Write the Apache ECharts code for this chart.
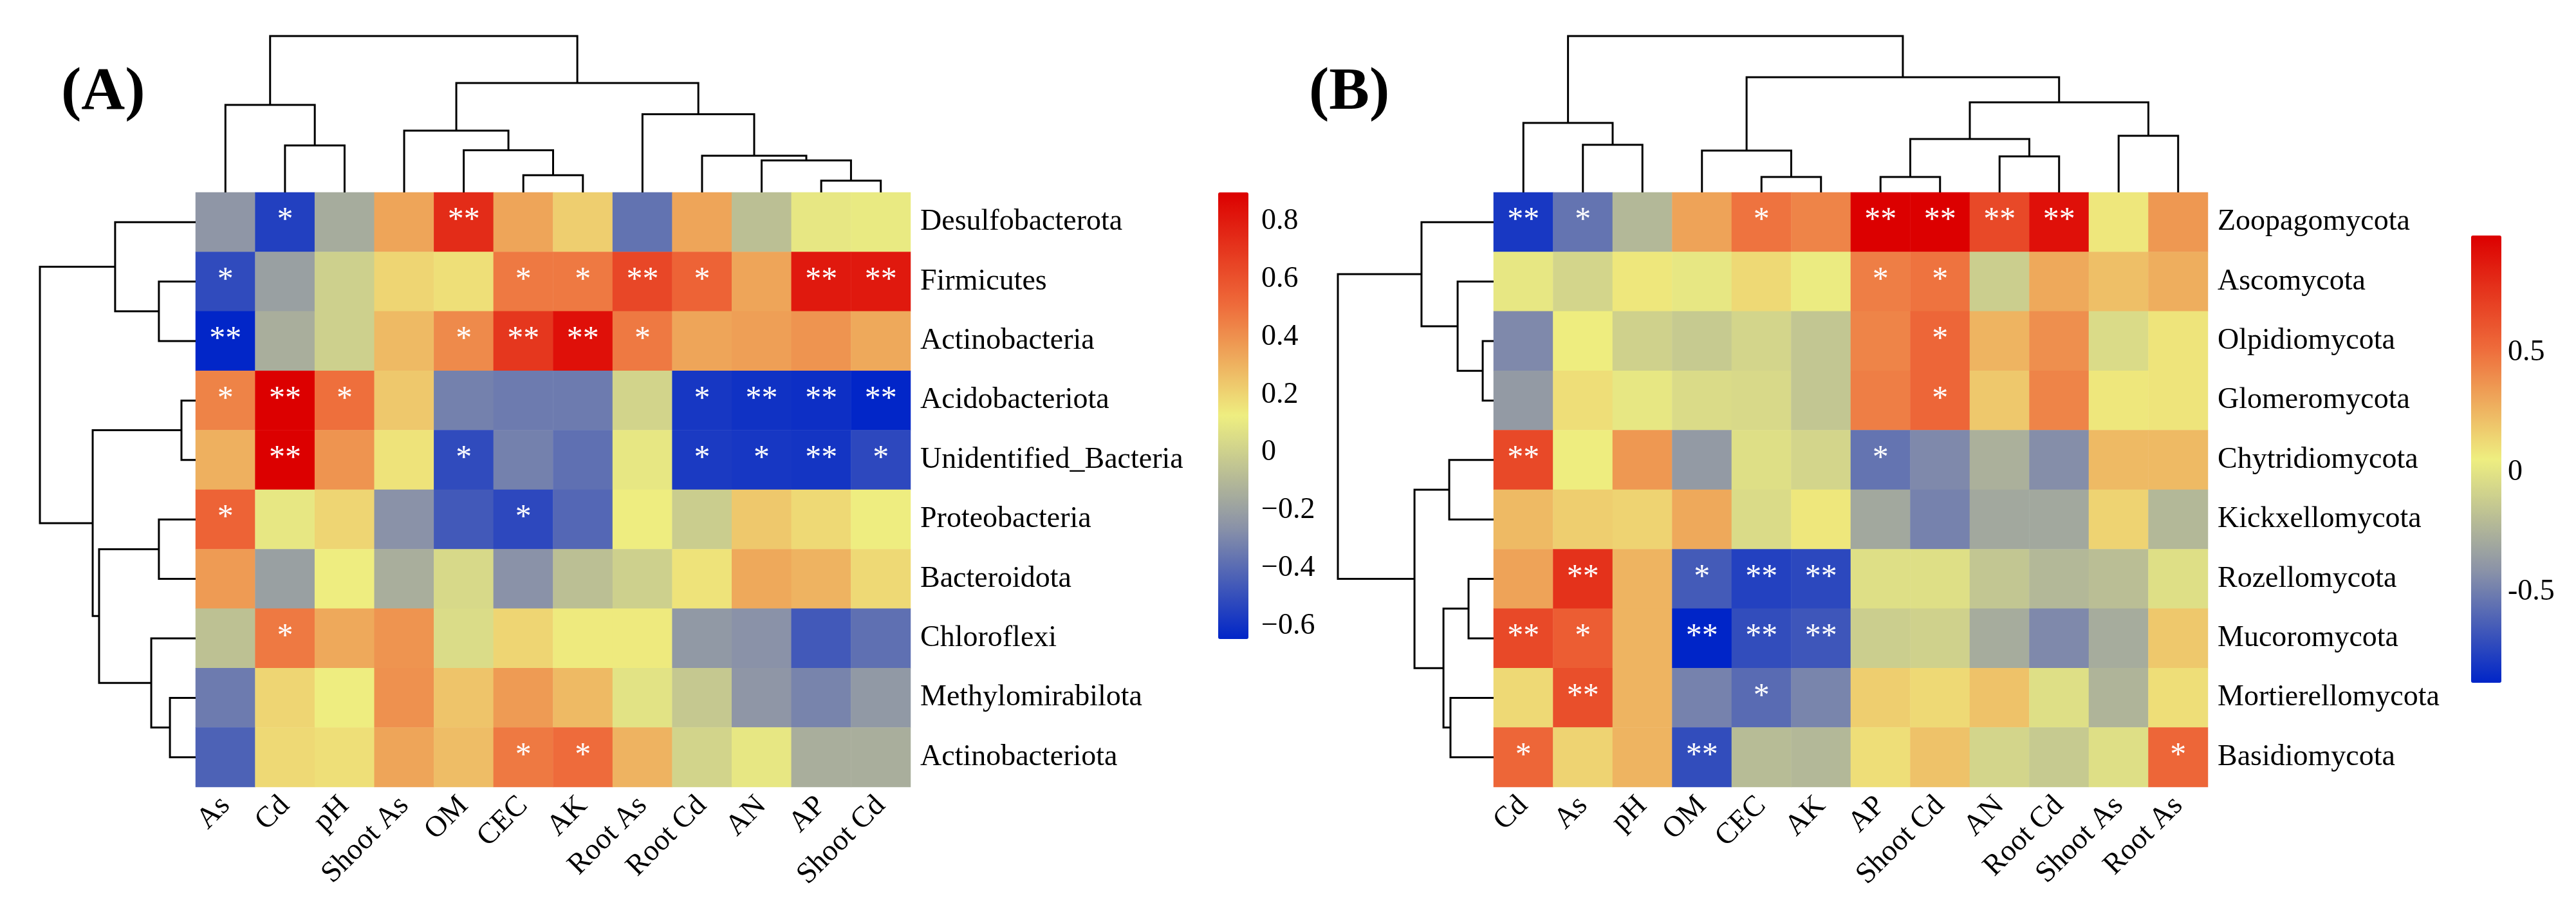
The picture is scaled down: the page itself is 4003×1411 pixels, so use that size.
<!DOCTYPE html>
<html><head><meta charset="utf-8">
<script src="https://cdn.jsdelivr.net/npm/echarts@6/dist/echarts.min.js"></script>
<style>html,body{margin:0;padding:0;background:#fff}#c{width:4003px;height:1411px}</style>
</head><body><div id="c"></div>
<script>
// ---------- Panel A data ----------
const colsA = ['As','Cd','pH','Shoot As','OM','CEC','AK','Root As','Root Cd','AN','AP','Shoot Cd'];
const rowsA = ['Desulfobacterota','Firmicutes','Actinobacteria','Acidobacteriota','Unidentified_Bacteria','Proteobacteria','Bacteroidota','Chloroflexi','Methylomirabilota','Actinobacteriota'];
const valuesA = [
  [-0.24,-0.55,-0.15, 0.34, 0.74, 0.34, 0.22,-0.37, 0.34,-0.07, 0.10, 0.11],
  [-0.51,-0.20, 0.00, 0.20, 0.17, 0.47, 0.47, 0.64, 0.54, 0.34, 0.81, 0.81],
  [-0.64,-0.14, 0.00, 0.28, 0.42, 0.70, 0.84, 0.47, 0.34, 0.36, 0.39, 0.33],
  [ 0.44, 0.90, 0.50, 0.24,-0.32,-0.34,-0.34, 0.02,-0.58,-0.60,-0.61,-0.64],
  [ 0.31, 0.90, 0.39, 0.16,-0.51,-0.32,-0.38, 0.10,-0.57,-0.58,-0.59,-0.52],
  [ 0.54, 0.10, 0.20,-0.26,-0.46,-0.52,-0.41, 0.13,-0.01, 0.24, 0.19, 0.13],
  [ 0.37,-0.20, 0.13,-0.14, 0.04,-0.26,-0.07, 0.00, 0.16, 0.33, 0.30, 0.19],
  [-0.06, 0.47, 0.33, 0.39, 0.05, 0.20, 0.14, 0.14,-0.23,-0.26,-0.46,-0.38],
  [-0.34, 0.20, 0.13, 0.40, 0.25, 0.37, 0.28, 0.08,-0.03,-0.24,-0.31,-0.23],
  [-0.43, 0.19, 0.17, 0.34, 0.27, 0.47, 0.51, 0.30, 0.02, 0.10,-0.14,-0.14]
];
const sigA = [
  ['','*','','','**','','','','','','',''],
  ['*','','','','','*','*','**','*','','**','**'],
  ['**','','','','*','**','**','*','','','',''],
  ['*','**','*','','','','','','*','**','**','**'],
  ['','**','','','*','','','','*','*','**','*'],
  ['*','','','','','*','','','','','',''],
  ['','','','','','','','','','','',''],
  ['','*','','','','','','','','','',''],
  ['','','','','','','','','','','',''],
  ['','','','','','*','*','','','','','']
];
// linkage: [childA, childB, height]; new node ids continue after leaves
const colLinkA = [[10,11,0.075],[5,6,0.11],[9,12,0.205],[8,14,0.235],[4,13,0.27],[1,2,0.30],[3,16,0.395],[7,15,0.50],[0,17,0.56],[18,19,0.70],[20,21,1.0]];
const rowLinkA = [[3,4,0.091],[8,9,0.165],[1,2,0.236],[5,6,0.236],[7,11,0.285],[0,12,0.517],[13,14,0.62],[10,16,0.661],[15,17,1.0]];
const rangeA = [-0.645, 0.90];
const ticksA = [-0.6, 0.8, 0.2];

// ---------- Panel B data ----------
const colsB = ['Cd','As','pH','OM','CEC','AK','AP','Shoot Cd','AN','Root Cd','Shoot As','Root As'];
const rowsB = ['Zoopagomycota','Ascomycota','Olpidiomycota','Glomeromycota','Chytridiomycota','Kickxellomycota','Rozellomycota','Mucoromycota','Mortierellomycota','Basidiomycota'];
const valuesB = [
  [-0.80,-0.54,-0.22, 0.32, 0.49, 0.43, 0.99, 0.99, 0.67, 0.92, 0.08, 0.36],
  [ 0.02,-0.07, 0.08, 0.02, 0.13, 0.04, 0.45, 0.49,-0.11, 0.30, 0.22, 0.28],
  [-0.45, 0.06,-0.09,-0.13,-0.07,-0.15, 0.43, 0.54, 0.26, 0.39,-0.04, 0.09],
  [-0.37, 0.11, 0.02,-0.04,-0.05,-0.15, 0.45, 0.54, 0.19, 0.43, 0.08, 0.09],
  [ 0.67, 0.06, 0.36,-0.37,-0.02,-0.07,-0.54,-0.45,-0.26,-0.43, 0.24, 0.24],
  [ 0.24, 0.17, 0.15, 0.30,-0.04, 0.08,-0.30,-0.48,-0.30,-0.30, 0.15,-0.22],
  [ 0.32, 0.77, 0.26,-0.65,-0.76,-0.73,-0.02,-0.02,-0.15,-0.22,-0.19,-0.02],
  [ 0.67, 0.58, 0.26,-0.88,-0.71,-0.67,-0.11,-0.09,-0.28,-0.45,-0.28, 0.19],
  [ 0.13, 0.64, 0.26,-0.48,-0.58,-0.47, 0.17, 0.13, 0.21,-0.02,-0.24, 0.11],
  [ 0.54, 0.15, 0.26,-0.71,-0.20,-0.22, 0.11, 0.21,-0.07,-0.13,-0.02, 0.54]
];
const sigB = [
  ['**','*','','','*','','**','**','**','**','',''],
  ['','','','','','','*','*','','','',''],
  ['','','','','','','','*','','','',''],
  ['','','','','','','','*','','','',''],
  ['**','','','','','','*','','','','',''],
  ['','','','','','','','','','','',''],
  ['','**','','*','**','**','','','','','',''],
  ['**','*','','**','**','**','','','','','',''],
  ['','**','','','*','','','','','','',''],
  ['*','','','**','','','','','','','','*']
];
const colLinkB = [[4,5,0.099],[6,7,0.099],[8,9,0.23],[3,12,0.267],[1,2,0.305],[13,14,0.342],[10,11,0.362],[0,16,0.444],[17,18,0.576],[15,20,0.737],[19,21,1.0]];
const rowLinkB = [[2,3,0.07],[6,7,0.161],[1,10,0.231],[8,9,0.277],[4,5,0.285],[11,13,0.322],[0,12,0.463],[14,15,0.508],[16,17,1.0]];
const rangeB = [-0.88, 0.99];
const ticksB = [-0.5, 0.5, 0.5];

const palette = ['#0025c8','#8a92a8','#eeee80','#ee6a3a','#dc0000'];

// ---------- helpers ----------
const FONT = 'Liberation Serif';
function dendro(n, links, rowWise){
  const pos = [], h = [];
  for (let i=0;i<n;i++){pos[i]=i+0.5;h[i]=0;}
  const out = [];
  links.forEach((l,k)=>{
    const [a,b,ht] = l, id = n+k;
    pos[id]=(pos[a]+pos[b])/2; h[id]=ht;
    let pts = [[pos[a],h[a]],[pos[a],ht],[pos[b],ht],[pos[b],h[b]]];
    if (rowWise) pts = pts.map(p=>[p[1],p[0]]);
    out.push({coords: pts});
  });
  return out;
}
function cells(vals){
  const d=[]; vals.forEach((row,r)=>row.forEach((v,c)=>d.push([c,r,v]))); return d;
}

// layout (pixels)
const L = {
  A: {hx:304, hy:299, hw:1111, hh:924, dTop:56, dLeft:62, cbx:1893, cby:299, cbw:47, cbh:694, cbMargin:20},
  B: {hx:2321, hy:299, hw:1110, hh:924, dTop:56, dLeft:2079, cbx:3840, cby:366, cbw:47, cbh:695, cbMargin:10}
};

const grids=[], xAxes=[], yAxes=[], series=[], visualMaps=[];
function panel(key, cols, rows, vals, sig, colLink, rowLink, range, ticks, minusSign){
  const g = L[key];
  const base = grids.length;
  // heatmap grid
  grids.push({left:g.hx, top:g.hy, width:g.hw, height:g.hh});
  xAxes.push({gridIndex:base, type:'category', data:cols, position:'bottom',
    axisLine:{show:false}, axisTick:{show:false},
    axisLabel:{interval:0, rotate:45, margin:22, fontFamily:FONT, fontSize:46, color:'#000'}});
  yAxes.push({gridIndex:base, type:'category', data:rows, inverse:true, position:'right',
    axisLine:{show:false}, axisTick:{show:false},
    axisLabel:{interval:0, margin:15, fontFamily:FONT, fontSize:46, color:'#000'}});
  // column dendrogram grid
  grids.push({left:g.hx, top:g.dTop, width:g.hw, height:g.hy-g.dTop});
  xAxes.push({gridIndex:base+1, type:'value', min:0, max:cols.length, show:false});
  yAxes.push({gridIndex:base+1, type:'value', min:0, max:1, show:false});
  // row dendrogram grid
  grids.push({left:g.dLeft, top:g.hy, width:g.hx-g.dLeft, height:g.hh});
  xAxes.push({gridIndex:base+2, type:'value', min:0, max:1, inverse:true, show:false});
  yAxes.push({gridIndex:base+2, type:'value', min:0, max:rows.length, inverse:true, show:false});
  // colourbar label axis grid (placed over the colourbar span of the tick range)
  const pxPerUnit = g.cbh/(range[1]-range[0]);
  const tTop = g.cby + (range[1]-ticks[1])*pxPerUnit;
  const tH = (ticks[1]-ticks[0])*pxPerUnit;
  grids.push({left:g.cbx, top:tTop, width:g.cbw, height:tH});
  xAxes.push({gridIndex:base+3, type:'value', show:false});
  yAxes.push({gridIndex:base+3, type:'value', min:ticks[0], max:ticks[1], interval:ticks[2], position:'right',
    axisLine:{show:false}, axisTick:{show:false}, splitLine:{show:false},
    axisLabel:{margin:g.cbMargin, fontFamily:FONT, fontSize:46, color:'#000',
      formatter:v=>{const r=Math.round(v*10)/10; return r<0?(minusSign+Math.abs(r)):String(r);}}});

  const si = series.length;
  series.push({type:'heatmap', xAxisIndex:base, yAxisIndex:base, data:cells(vals),
    itemStyle:{borderWidth:0},
    label:{show:true, color:'#fff', fontFamily:FONT, fontSize:50, offset:[0,-2],
      formatter:p=>sig[p.value[1]][p.value[0]]},
    emphasis:{disabled:true}, progressive:0, animation:false});
  series.push({type:'lines', coordinateSystem:'cartesian2d', xAxisIndex:base+1, yAxisIndex:base+1,
    polyline:true, clip:false, silent:true, data:dendro(cols.length, colLink, false),
    lineStyle:{color:'#000', width:3, opacity:1}, animation:false});
  series.push({type:'lines', coordinateSystem:'cartesian2d', xAxisIndex:base+2, yAxisIndex:base+2,
    polyline:true, clip:false, silent:true, data:dendro(rows.length, rowLink, true),
    lineStyle:{color:'#000', width:3, opacity:1}, animation:false});
  visualMaps.push({type:'continuous', seriesIndex:si, dimension:2, min:range[0], max:range[1],
    inRange:{color:palette}, calculable:false, hoverLink:false, orient:'vertical',
    left:g.cbx, top:g.cby, itemWidth:g.cbw, itemHeight:g.cbh, padding:0, text:null});
}
panel('A', colsA, rowsA, valuesA, sigA, colLinkA, rowLinkA, rangeA, ticksA, '\u2212');
panel('B', colsB, rowsB, valuesB, sigB, colLinkB, rowLinkB, rangeB, ticksB, '-');

const chart = echarts.init(document.getElementById('c'), null, {renderer:'canvas'});
chart.setOption({
  backgroundColor:'#fff', animation:false,
  title:[
    {text:'(A)', left:95, top:98, padding:0, textStyle:{fontFamily:FONT, fontWeight:'bold', fontSize:94, color:'#000'}},
    {text:'(B)', left:2034, top:98, padding:0, textStyle:{fontFamily:FONT, fontWeight:'bold', fontSize:94, color:'#000'}}
  ],
  grid:grids, xAxis:xAxes, yAxis:yAxes, visualMap:visualMaps, series:series
});
</script></body></html>
